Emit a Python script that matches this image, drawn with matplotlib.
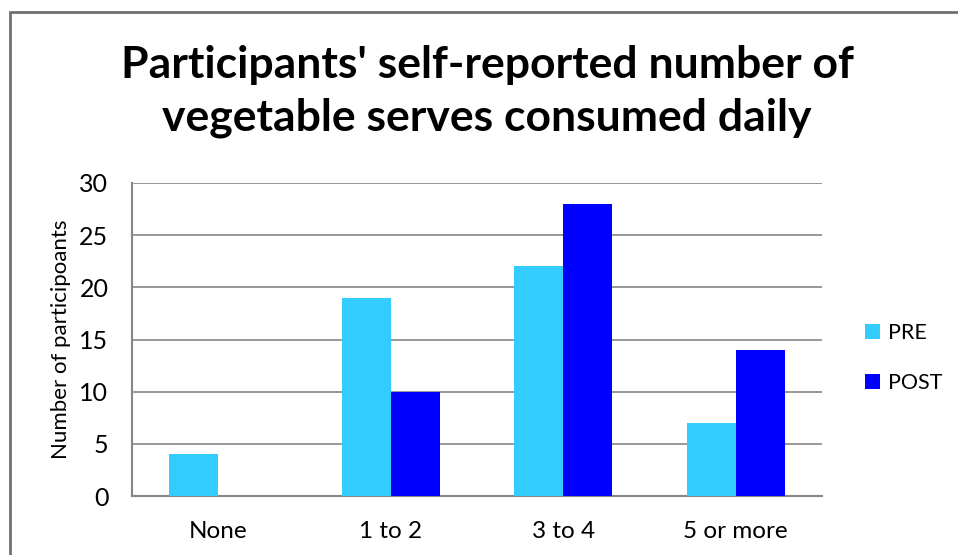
import matplotlib
matplotlib.use("Agg")
import matplotlib.pyplot as plt
import numpy as np
from matplotlib.patches import Rectangle

categories = ["None", "1 to 2", "3 to 4", "5 or more"]
pre = [4, 19, 22, 7]
post = [0, 10, 28, 14]
yticks = [0, 5, 10, 15, 20, 25, 30]

plt.rcParams['font.family'] = ['Lato', 'DejaVu Sans']

fig = plt.figure(figsize=(9.58, 5.55), dpi=100)
ax = fig.add_axes([132/958, 59/555, 690/958, 313/555])

x = np.arange(len(categories))
w = 0.285
ax.bar(x - w/2, pre, w, color="#33CCFF", label="PRE", zorder=3)
ax.bar(x + w/2, post, w, color="#0000FF", label="POST", zorder=3)

ax.set_xlim(-0.5, len(categories) - 0.5)
ax.set_ylim(0, 30)
ax.set_yticks(yticks)
ax.set_xticks(x)
ax.set_xticklabels(categories, fontsize=17.5)
ax.tick_params(axis='y', labelsize=18, length=0, pad=17)
ax.tick_params(axis='x', length=0, pad=18)
ax.grid(axis='y', color="#868686", linewidth=1.2, zorder=0)
for s in ["top", "right"]:
    ax.spines[s].set_visible(False)
for s in ["left", "bottom"]:
    ax.spines[s].set_color("#868686")
    ax.spines[s].set_linewidth(1.5)
ax.set_ylabel("Number of participoants", fontsize=16, labelpad=6)

fig.text(487/958, 1 - 78/555, "Participants' self-reported number of",
         ha='center', va='baseline', fontsize=32, fontweight='bold')
fig.text(487/958, 1 - 130/555, "vegetable serves consumed daily",
         ha='center', va='baseline', fontsize=32, fontweight='bold')

fig.legend(loc='center left', bbox_to_anchor=(865/958, 1 - 358/555),
           frameon=False, fontsize=15.5, handlelength=0.7, handleheight=0.7,
           labelspacing=1.36, handletextpad=0.37, borderaxespad=0, borderpad=0)

fig.patches.append(Rectangle((10/958, -0.1), 1.1, 1 - 12/555 + 0.1, transform=fig.transFigure,
                             fill=False, edgecolor="#707070", linewidth=2))

fig.savefig("out.png", dpi=100)
